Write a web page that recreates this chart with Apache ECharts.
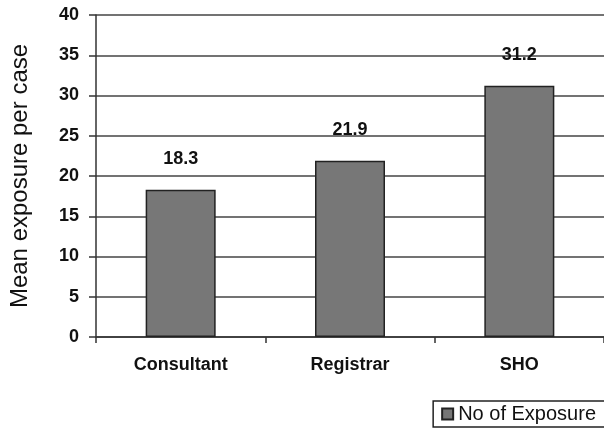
<!DOCTYPE html>
<html>
<head>
<meta charset="utf-8">
<script src="https://cdn.jsdelivr.net/npm/echarts@6/dist/echarts.min.js"></script>
<style>
  html, body { margin: 0; padding: 0; background: #fff; }
  #chart { width: 604px; height: 428px; }
</style>
</head>
<body>
<div id="chart"></div>
<script>
const categories = ['Consultant', 'Registrar', 'SHO']
const exposureValues = [18.3, 21.9, 31.2]
const seriesName = 'No of Exposure'

const chart = echarts.init(document.getElementById('chart'))

const option = {
  animation: false,
  textStyle: { fontFamily: 'Liberation Sans, Arial, sans-serif' },
  grid: {
    left: 95,
    right: 0,
    top: 15,
    bottom: 91
  },
  legend: {
    data: [seriesName],
    right: -2,
    bottom: 1,
    padding: [3, 10, 3, 8],
    borderColor: '#222',
    borderWidth: 1.5,
    borderRadius: 0,
    itemWidth: 11,
    itemHeight: 11,
    itemGap: 7,
    icon: 'rect',
    textStyle: { fontSize: 20, color: '#111' }
  },
  xAxis: {
    type: 'category',
    data: categories,
    axisLine: { lineStyle: { color: '#333', width: 1.5 } },
    axisTick: { show: true, length: 6, lineStyle: { color: '#333', width: 1.5 } },
    axisLabel: {
      fontSize: 18,
      fontWeight: 'bold',
      color: '#111',
      margin: 19
    }
  },
  yAxis: {
    type: 'value',
    min: 0,
    max: 40,
    interval: 5,
    name: 'Mean exposure per case',
    nameLocation: 'middle',
    nameGap: 64,
    nameTextStyle: { fontSize: 24, color: '#111' },
    axisLine: { show: true, lineStyle: { color: '#333', width: 1.5 } },
    axisTick: { show: true, length: 7, lineStyle: { color: '#333', width: 1.5 } },
    axisLabel: {
      fontSize: 18,
      fontWeight: 'bold',
      color: '#111',
      margin: 17
    },
    splitLine: { lineStyle: { color: '#444', width: 1.5 } }
  },
  series: [
    {
      name: seriesName,
      type: 'bar',
      data: exposureValues,
      barWidth: 70,
      itemStyle: {
        color: '#777777',
        borderColor: '#222',
        borderWidth: 1.5
      },
      label: {
        show: true,
        position: 'top',
        distance: 22,
        fontSize: 18,
        fontWeight: 'bold',
        color: '#111'
      }
    }
  ]
}

chart.setOption(option)
</script>
</body>
</html>
